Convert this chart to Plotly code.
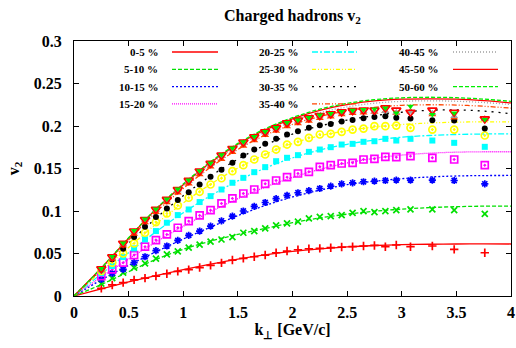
import plotly.graph_objects as go

# ---------------- data ----------------
k_pts = [0.25, 0.35, 0.45, 0.55, 0.65, 0.75, 0.85, 0.95, 1.05, 1.15, 1.25, 1.35,
         1.45, 1.55, 1.65, 1.75, 1.85, 1.95, 2.05, 2.15, 2.25, 2.35, 2.45, 2.55,
         2.65, 2.75, 2.85, 2.95, 3.08, 3.28, 3.48, 3.76]
k_fit = [0, 0.25, 0.5, 0.75, 1, 1.25, 1.5, 1.75, 2, 2.25, 2.5, 2.75, 3, 3.25, 3.5, 3.75, 4]

labels = ["0-5 %", "5-10 %", "10-15 %", "15-20 %", "20-25 %", "25-30 %",
          "30-35 %", "35-40 %", "40-45 %", "45-50 %", "50-60 %"]

v2_0_5 = [0.009, 0.013, 0.0157, 0.019, 0.021, 0.0235, 0.0262, 0.029, 0.031, 0.0335, 0.036, 0.039,
          0.0423, 0.0443, 0.0462, 0.0482, 0.0509, 0.0529, 0.0544, 0.0556, 0.056, 0.0568, 0.0576, 0.058,
          0.0588, 0.0595, 0.058, 0.060, 0.058, 0.0588, 0.0548, 0.0509]
v2_5_10 = [0.0145, 0.021, 0.0274, 0.0333, 0.0384, 0.0439, 0.049, 0.0525, 0.0568, 0.0605, 0.064, 0.0665,
           0.0693, 0.0744, 0.0764, 0.0795, 0.083, 0.0855, 0.0875, 0.0913, 0.0932, 0.094, 0.0952, 0.0979,
           0.0999, 0.0987, 0.0999, 0.101, 0.1018, 0.1018, 0.101, 0.0967]
v2_10_15 = [0.0195, 0.0266, 0.0313, 0.0392, 0.0462, 0.0533, 0.0588, 0.0654, 0.0713, 0.0764, 0.0823, 0.0885,
            0.094, 0.100, 0.1055, 0.110, 0.1145, 0.1185, 0.1215, 0.124, 0.1265, 0.1293, 0.132, 0.1332,
            0.1344, 0.1351, 0.1359, 0.1363, 0.1363, 0.1363, 0.1359, 0.132]
v2_15_20 = [0.0235, 0.0313, 0.0392, 0.0482, 0.058, 0.0658, 0.0725, 0.0803, 0.0881, 0.0948, 0.101, 0.1089,
            0.1148, 0.1206, 0.1253, 0.132, 0.1359, 0.1398, 0.1441, 0.1461, 0.152, 0.154, 0.1559, 0.1567,
            0.1606, 0.1614, 0.1637, 0.1633, 0.1645, 0.1626, 0.1606, 0.1539]
v2_20_25 = [0.027, 0.0353, 0.0458, 0.056, 0.0666, 0.0764, 0.0862, 0.0952, 0.1018, 0.1105, 0.1175, 0.1253,
            0.1332, 0.139, 0.1457, 0.1516, 0.1586, 0.1626, 0.1657, 0.1696, 0.1723, 0.1751, 0.1782, 0.179,
            0.1814, 0.1821, 0.1849, 0.1829, 0.1849, 0.1829, 0.1802, 0.1755]
v2_25_30 = [0.0294, 0.0392, 0.0501, 0.0619, 0.0744, 0.087, 0.0971, 0.1065, 0.1156, 0.1226, 0.1312, 0.1385,
            0.1469, 0.1539, 0.1606, 0.1665, 0.1723, 0.1782, 0.1814, 0.1861, 0.190, 0.1908, 0.1931, 0.1958,
            0.197, 0.1998, 0.1998, 0.2005, 0.1978, 0.1958, 0.1958, 0.1888]
v2_30_35 = [0.0313, 0.0431, 0.0556, 0.0693, 0.0815, 0.0928, 0.103, 0.1128, 0.1222, 0.1312, 0.1402, 0.1485,
            0.1567, 0.1653, 0.1723, 0.179, 0.1849, 0.190, 0.1939, 0.1978, 0.2009, 0.2025, 0.2052, 0.2072,
            0.2091, 0.2107, 0.2115, 0.2096, 0.2088, 0.2068, 0.2064, 0.197]
v2_35_40 = [0.030, 0.0435, 0.059, 0.073, 0.0865, 0.0985, 0.110, 0.1215, 0.132, 0.143, 0.152, 0.161,
            0.169, 0.1765, 0.183, 0.189, 0.194, 0.1995, 0.203, 0.206, 0.209, 0.211, 0.2135, 0.215,
            0.2155, 0.2165, 0.2175, 0.2154, 0.2175, 0.2135, 0.2096, 0.2084]
v2_40_45 = [0.031, 0.045, 0.061, 0.0755, 0.089, 0.101, 0.1125, 0.124, 0.135, 0.1458, 0.155, 0.1645,
            0.1725, 0.18, 0.1862, 0.192, 0.1968, 0.2025, 0.2058, 0.2086, 0.2113, 0.2133, 0.2155, 0.217,
            0.2175, 0.217, 0.2175, 0.216, 0.2165, 0.215, 0.2115, 0.208]
v2_45_50 = [0.032, 0.046, 0.062, 0.0764, 0.090, 0.102, 0.1136, 0.1253, 0.136, 0.147, 0.156, 0.1657,
            0.1735, 0.181, 0.1872, 0.1931, 0.1978, 0.2037, 0.2068, 0.2096, 0.2123, 0.2143, 0.2166, 0.2182,
            0.2186, 0.2186, 0.2213, 0.2186, 0.2162, 0.2186, 0.2162, 0.2084]
v2_50_60 = [0.0325, 0.0465, 0.0625, 0.077, 0.0905, 0.1025, 0.114, 0.1258, 0.1365, 0.1475, 0.1565, 0.1662,
            0.174, 0.1815, 0.1876, 0.1935, 0.1982, 0.204, 0.2072, 0.21, 0.2128, 0.2148, 0.217, 0.2186,
            0.2195, 0.2201, 0.2213, 0.2154, 0.2233, 0.2135, 0.2154, 0.2076]

fit_0_5 = [0, 0.0085, 0.0165, 0.024, 0.031, 0.0375, 0.0435, 0.0485, 0.0525, 0.0555, 0.0578, 0.0594,
           0.0604, 0.0609, 0.0612, 0.0613, 0.0612]
fit_5_10 = [0, 0.0135, 0.0285, 0.043, 0.055, 0.0645, 0.0725, 0.0795, 0.0862, 0.0918, 0.0963, 0.0997,
            0.1022, 0.104, 0.1051, 0.1057, 0.1058]
fit_10_15 = [0, 0.019, 0.036, 0.052, 0.067, 0.081, 0.0945, 0.1065, 0.1165, 0.1245, 0.131, 0.135,
             0.138, 0.1400, 0.1412, 0.1417, 0.1418]
fit_15_20 = [0, 0.0225, 0.0435, 0.0635, 0.082, 0.099, 0.1145, 0.128, 0.1395, 0.149, 0.1565, 0.162,
             0.1658, 0.168, 0.1692, 0.1697, 0.1697]
fit_20_25 = [0, 0.026, 0.051, 0.0755, 0.098, 0.118, 0.1355, 0.1505, 0.1625, 0.1718, 0.1785, 0.1835,
             0.1868, 0.1888, 0.190, 0.1906, 0.1908]
fit_25_30 = [0, 0.029, 0.057, 0.0845, 0.1095, 0.1315, 0.1505, 0.1665, 0.1795, 0.1885, 0.1945, 0.1988,
             0.2017, 0.2035, 0.2045, 0.2049, 0.2049]
fit_30_35 = [0, 0.0315, 0.062, 0.0915, 0.118, 0.141, 0.161, 0.1775, 0.1905, 0.200, 0.207, 0.2122,
             0.2162, 0.2185, 0.219, 0.2175, 0.2145]
fit_35_40 = [0, 0.032, 0.066, 0.0985, 0.1265, 0.1515, 0.1725, 0.1892, 0.2018, 0.2112, 0.2178, 0.222,
             0.2243, 0.225, 0.2246, 0.2232, 0.221]
fit_40_45 = [0, 0.0325, 0.0675, 0.101, 0.130, 0.1555, 0.1768, 0.1935, 0.2062, 0.2158, 0.2225, 0.2268,
             0.229, 0.2296, 0.2291, 0.2276, 0.2252]
fit_45_50 = [0, 0.033, 0.068, 0.102, 0.131, 0.157, 0.1785, 0.1955, 0.2085, 0.2185, 0.2252, 0.2295,
             0.2315, 0.232, 0.2315, 0.2298, 0.2272]
fit_50_60 = [0, 0.033, 0.0685, 0.1025, 0.1318, 0.158, 0.1795, 0.1968, 0.2098, 0.2198, 0.2266, 0.231,
             0.2332, 0.2338, 0.2333, 0.2316, 0.229]

x_ticks = [0, 0.5, 1, 1.5, 2, 2.5, 3, 3.5, 4]
x_ticklabels = ["0", "0.5", "1", "1.5", "2", "2.5", "3", "3.5", "4"]
y_ticks = [0, 0.05, 0.1, 0.15, 0.2, 0.25, 0.3]
y_ticklabels = ["0", "0.05", "0.1", "0.15", "0.2", "0.25", "0.3"]

points = [v2_0_5, v2_5_10, v2_10_15, v2_15_20, v2_20_25, v2_25_30,
          v2_30_35, v2_35_40, v2_40_45, v2_45_50, v2_50_60]
fits = [fit_0_5, fit_5_10, fit_10_15, fit_15_20, fit_20_25, fit_25_30,
        fit_30_35, fit_35_40, fit_40_45, fit_45_50, fit_50_60]

# ---------------- styles ----------------
colors = ["#ff0000", "#00e000", "#0000ff", "#ff00ff", "#00ffff", "#ffff00",
          "#000000", "#ff4500", "#a0a0a0", "#ff0000", "#00ee00"]
dashes = ["solid", "4px,2px", "2px,2px", "1px,1px", "6px,2px,2px,2px", "4px,2px,1px,2px,1px,2px",
          "2px,5px", "5px,2px,1px,2px,1px,2px", "1px,2px", "solid", "4px,2px"]
symbols = ["cross-thin-open", "x-thin-open", "asterisk-open", "square-open-dot", "square",
           "circle-open-dot", "circle", "triangle-up", "triangle-up", "triangle-down-open", "triangle-down"]
msizes = [6, 6, 6, 7, 6, 7, 6, 7, 7, 8, 6]

# layout geometry (pixels)
W, H = 516, 348
L, R, T, B = 74, 5, 41, 52
PW, PH = W - L - R, H - T - B


def px2x(px):
    return (px - L) / PW


def py2y(py):
    return (H - B - py) / PH


fig = go.Figure()
for i in range(len(labels)):
    fig.add_trace(go.Scatter(
        x=k_fit, y=fits[i], mode="lines", name=labels[i], showlegend=False,
        line=dict(color=colors[i], width=1.3, dash=dashes[i], shape="spline")))
for i in range(len(labels)):
    filled = symbols[i] in ("square", "circle", "triangle-up", "triangle-down")
    fig.add_trace(go.Scatter(
        x=k_pts, y=points[i], mode="markers", name=labels[i], showlegend=False,
        marker=dict(symbol=symbols[i], size=msizes[i], color=colors[i],
                    line=dict(color=colors[i], width=0 if filled else 1.7))))

font_fam = "Liberation Serif"

# gnuplot-style key: text right-aligned, sample line to its right (column-wise filling)
col_text_right = [160, 300, 440]
col_line = [(172, 218), (312, 357), (453, 498)]
row_y = [52, 69.3, 86.6, 103.9]
annotations = []
shapes = []
for i, lab in enumerate(labels):
    c, r = divmod(i, 4)
    annotations.append(dict(
        x=px2x(col_text_right[c]), y=py2y(row_y[r]), xref="paper", yref="paper",
        text=lab, showarrow=False, xanchor="right", yanchor="middle",
        font=dict(family=font_fam, size=11, color="black", weight="bold")))
    shapes.append(dict(
        type="line", xref="paper", yref="paper",
        x0=px2x(col_line[c][0]), x1=px2x(col_line[c][1]),
        y0=py2y(row_y[r]), y1=py2y(row_y[r]),
        line=dict(color=colors[i], width=1.3, dash=dashes[i])))

fig.update_layout(
    width=W, height=H,
    margin=dict(l=L, r=R, t=T, b=B),
    paper_bgcolor="white", plot_bgcolor="white",
    title=dict(text="Charged hadrons v<sub>2</sub>", x=0.5, xref="paper", xanchor="center",
               y=1 - 15 / H, yref="container", yanchor="middle",
               font=dict(family=font_fam, size=16, color="black", weight="bold")),
    showlegend=False,
    annotations=annotations,
    shapes=shapes,
)
fig.update_xaxes(range=[0, 4], tickvals=x_ticks, ticktext=x_ticklabels, automargin=False,
                 showgrid=False, zeroline=False, showline=True, linecolor="black", linewidth=1,
                 mirror="ticks", ticks="inside", ticklen=5, tickcolor="black",
                 ticklabelstandoff=2,
                 tickfont=dict(family=font_fam, size=16, color="black", weight="bold"),
                 title=dict(text="k<sub>\u22a5</sub> [GeV/c]", standoff=1,
                            font=dict(family=font_fam, size=16, color="black", weight="bold")))
fig.update_yaxes(range=[0, 0.3], tickvals=y_ticks, ticktext=y_ticklabels, automargin=False,
                 showgrid=False, zeroline=False, showline=True, linecolor="black", linewidth=1,
                 mirror="ticks", ticks="inside", ticklen=5, tickcolor="black",
                 ticklabelstandoff=8,
                 tickfont=dict(family=font_fam, size=16, color="black", weight="bold"),
                 title=dict(text="v<sub>2</sub>", standoff=10,
                            font=dict(family=font_fam, size=16, color="black", weight="bold")))

fig.write_html("out.html", config={"displayModeBar": False},
               post_script="document.body.style.margin='0';document.body.style.overflow='hidden';")
